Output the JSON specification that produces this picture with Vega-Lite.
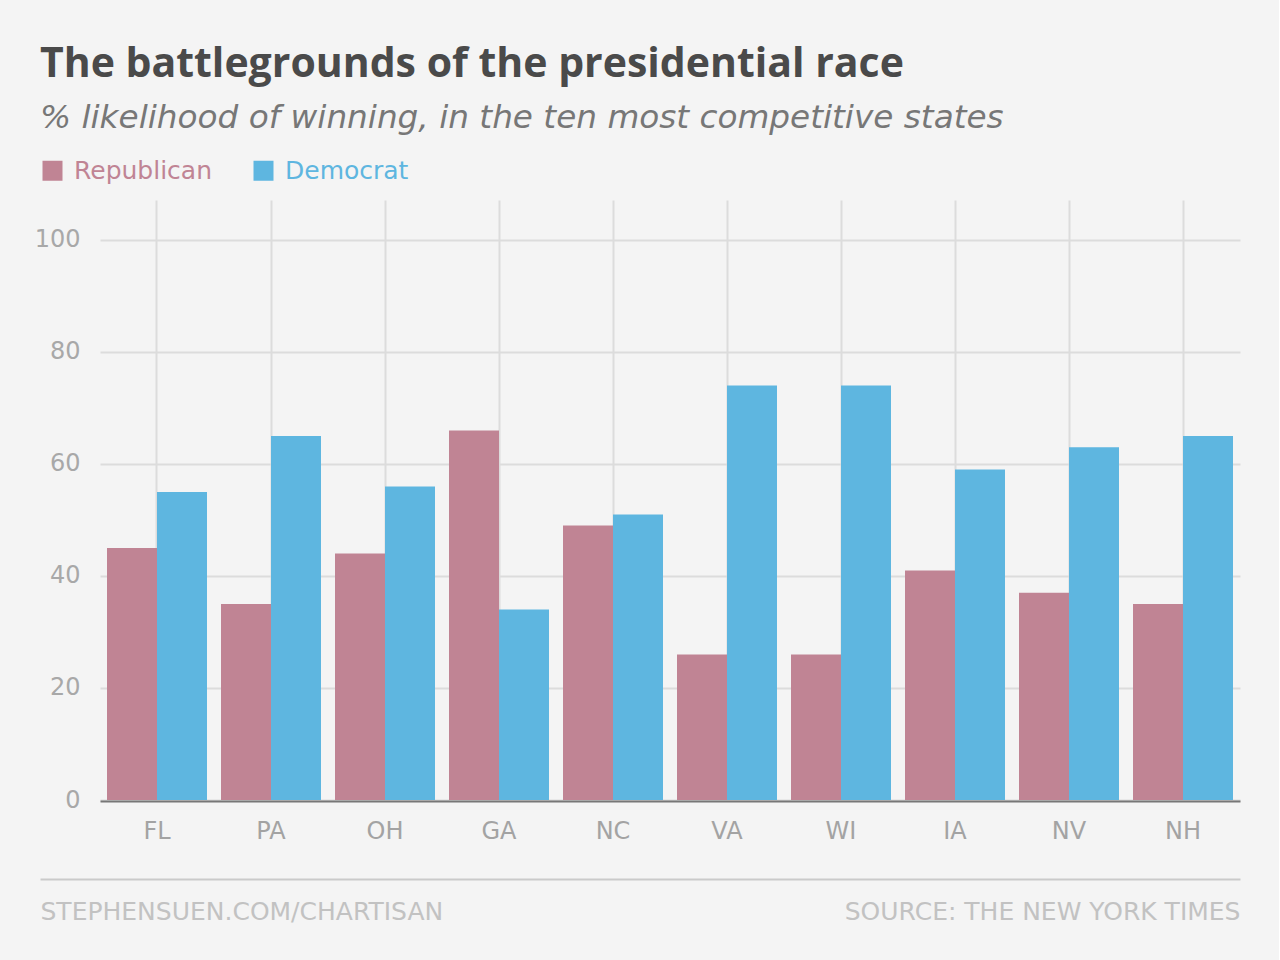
{
  "$schema": "https://vega.github.io/schema/vega-lite/v6.json",
  "background": "#f4f4f4",
  "padding": {"left": 34, "right": 39, "top": 44, "bottom": 39},
  "title": {
    "text": "The battlegrounds of the presidential race",
    "subtitle": "% likelihood of winning, in the ten most competitive states",
    "anchor": "start",
    "frame": "group",
    "font": "Open Sans",
    "fontSize": 41,
    "fontWeight": "bold",
    "color": "#4a4a4a",
    "subtitleFont": "DejaVu Sans",
    "subtitleFontSize": 32.7,
    "subtitleFontStyle": "italic",
    "subtitleFontWeight": "normal",
    "subtitleColor": "#777777",
    "subtitlePadding": 16,
    "offset": 22
  },
  "spacing": 35,
  "vconcat": [
    {
      "width": 1200,
      "height": 600,
      "data": {
        "values": [
          {"state": "FL", "party": "Republican", "likelihood": 45},
          {"state": "FL", "party": "Democrat", "likelihood": 55},
          {"state": "PA", "party": "Republican", "likelihood": 35},
          {"state": "PA", "party": "Democrat", "likelihood": 65},
          {"state": "OH", "party": "Republican", "likelihood": 44},
          {"state": "OH", "party": "Democrat", "likelihood": 56},
          {"state": "GA", "party": "Republican", "likelihood": 66},
          {"state": "GA", "party": "Democrat", "likelihood": 34},
          {"state": "NC", "party": "Republican", "likelihood": 49},
          {"state": "NC", "party": "Democrat", "likelihood": 51},
          {"state": "VA", "party": "Republican", "likelihood": 26},
          {"state": "VA", "party": "Democrat", "likelihood": 74},
          {"state": "WI", "party": "Republican", "likelihood": 26},
          {"state": "WI", "party": "Democrat", "likelihood": 74},
          {"state": "IA", "party": "Republican", "likelihood": 41},
          {"state": "IA", "party": "Democrat", "likelihood": 59},
          {"state": "NV", "party": "Republican", "likelihood": 37},
          {"state": "NV", "party": "Democrat", "likelihood": 63},
          {"state": "NH", "party": "Republican", "likelihood": 35},
          {"state": "NH", "party": "Democrat", "likelihood": 65}
        ]
      },
      "mark": {"type": "bar"},
      "encoding": {
        "x": {
          "field": "state",
          "type": "nominal",
          "sort": null,
          "scale": {"range": [60, 1200], "paddingInner": 0.1228, "paddingOuter": 0.0614},
          "axis": {
            "title": null,
            "labelAngle": 0,
            "labelFontSize": 24,
            "labelColor": "#a3a3a3",
            "labelPadding": 18,
            "ticks": false,
            "tickSize": 0,
            "offset": 1,
            "domainColor": "#777777",
            "domainWidth": 2,
            "grid": true,
            "gridColor": "#dcdcdc",
            "gridWidth": 2,
            "bandPosition": 0.5
          }
        },
        "xOffset": {
          "field": "party",
          "type": "nominal",
          "sort": ["Republican", "Democrat"],
          "scale": {"paddingInner": 0, "paddingOuter": 0}
        },
        "y": {
          "field": "likelihood",
          "type": "quantitative",
          "scale": {"domain": [0, 107.14], "nice": false},
          "axis": {
            "title": null,
            "values": [0, 20, 40, 60, 80, 100],
            "ticks": false,
            "tickSize": 0,
            "domain": false,
            "labelPadding": -40,
            "labelFontSize": 24,
            "labelColor": "#a8a8a8",
            "gridColor": "#dcdcdc",
            "gridWidth": 2
          }
        },
        "color": {
          "field": "party",
          "type": "nominal",
          "scale": {"domain": ["Republican", "Democrat"], "range": ["#c08494", "#5eb6e0"]},
          "legend": {
            "orient": "top",
            "direction": "horizontal",
            "title": null,
            "padding": 0,
            "symbolType": "square",
            "symbolSize": 400,
            "symbolStrokeWidth": 0,
            "symbolOpacity": 1,
            "labelFontSize": 25,
            "labelOffset": 9,
            "labelLimit": 300,
            "columnPadding": 38,
            "offset": 16,
            "encode": {"labels": {"update": {"fill": {"scale": "color", "field": "value"}}}}
          }
        }
      }
    },
    {
      "width": 1200,
      "height": 1,
      "data": {
        "values": [
          {"note": "STEPHENSUEN.COM/CHARTISAN"},
          {"note": "SOURCE: THE NEW YORK TIMES"}
        ]
      },
      "mark": {"type": "point", "opacity": 0, "size": 0, "strokeWidth": 0},
      "encoding": {
        "x": {
          "field": "note",
          "type": "nominal",
          "sort": null,
          "scale": {"type": "point", "padding": 0},
          "axis": {
            "title": null,
            "labelFlush": true,
            "labelAngle": 0,
            "labelFontSize": 25,
            "labelColor": "#c2c2c2",
            "labelPadding": 20,
            "labelLimit": 0,
            "labelOverlap": false,
            "ticks": false,
            "tickSize": 0,
            "domainColor": "#cacaca",
            "domainWidth": 2,
            "grid": false
          }
        }
      }
    }
  ],
  "config": {
    "font": "DejaVu Sans",
    "view": {"stroke": null}
  }
}
